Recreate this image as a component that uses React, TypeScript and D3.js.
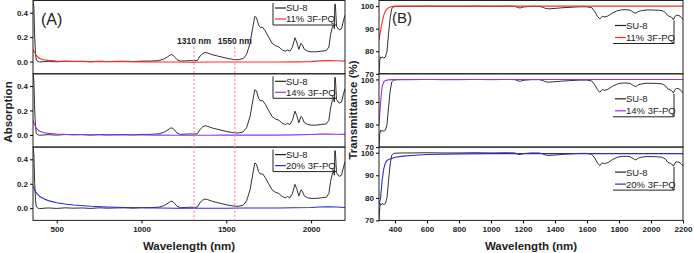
import React, { useEffect, useRef } from 'react';
import * as d3 from 'd3';

// ---- Absorption (A) ----
const absWl = [360, 365, 370, 375, 380, 390, 400, 450, 500, 550, 600, 650, 700, 750, 800, 850, 900, 950, 1000, 1050, 1100, 1130, 1150, 1170, 1180, 1195, 1210, 1230, 1260, 1290, 1310, 1330, 1345, 1360, 1375, 1390, 1420, 1450, 1480, 1510, 1540, 1570, 1600, 1620, 1640, 1655, 1668, 1678, 1690, 1700, 1715, 1730, 1750, 1770, 1790, 1810, 1830, 1850, 1860, 1875, 1890, 1905, 1915, 1928, 1940, 1948, 1960, 1980, 2000, 2030, 2060, 2090, 2105, 2115, 2125, 2132, 2137, 2140, 2143, 2150, 2165, 2180, 2190, 2200];
const absSU8 = [0.5, 0.45, 0.2, 0.06, 0.01, 0.0, -0.003, 0.002, -0.002, 0.003, 0.0, 0.002, -0.002, 0.003, 0.0, 0.002, 0.003, 0.0, 0.004, 0.004, 0.008, 0.02, 0.035, 0.055, 0.057, 0.04, 0.015, 0.004, 0.006, 0.008, 0.006, 0.01, 0.045, 0.065, 0.075, 0.07, 0.055, 0.045, 0.035, 0.025, 0.018, 0.015, 0.025, 0.06, 0.15, 0.27, 0.37, 0.36, 0.3, 0.28, 0.28, 0.25, 0.2, 0.15, 0.13, 0.12, 0.095, 0.085, 0.095, 0.085, 0.12, 0.195, 0.16, 0.1, 0.15, 0.14, 0.1, 0.085, 0.08, 0.08, 0.085, 0.09, 0.12, 0.22, 0.28, 0.3, 0.27, 0.47, 0.47, 0.29, 0.26, 0.27, 0.33, 0.38];

const absWlDoped = [360, 370, 380, 390, 400, 420, 450, 500, 550, 600, 700, 800, 900, 1000, 1100, 1200, 1300, 1400, 1500, 1600, 1700, 1800, 1900, 2000, 2050, 2100, 2150, 2200];
const abs11 = [0.1, 0.075, 0.05, 0.035, 0.025, 0.015, 0.01, 0.005, 0.003, 0.002, 0.0, 0.0, 0.0, -0.002, -0.003, -0.004, -0.005, -0.004, -0.003, -0.004, -0.004, -0.003, -0.002, 0.0, 0.006, 0.008, 0.007, 0.004];
const abs14 = [0.12, 0.08, 0.055, 0.04, 0.03, 0.02, 0.012, 0.007, 0.004, 0.003, 0.001, 0, 0, -0.001, -0.002, -0.003, -0.003, -0.003, -0.002, -0.002, -0.002, -0.002, 0.0, 0.003, 0.006, 0.006, 0.005, 0.004];
const abs20 = [0.18, 0.15, 0.125, 0.11, 0.095, 0.08, 0.062, 0.045, 0.034, 0.026, 0.016, 0.01, 0.006, 0.003, 0.001, 0.0, 0.0, 0.0, 0.0, 0.001, 0.001, 0.002, 0.004, 0.006, 0.01, 0.012, 0.01, 0.006];

// ---- Transmittance (B) ----
const tWl = [300, 305, 310, 315, 320, 330, 340, 350, 360, 370, 380, 390, 400, 450, 500, 600, 700, 800, 900, 1000, 1100, 1150, 1170, 1185, 1200, 1250, 1300, 1320, 1340, 1360, 1400, 1450, 1500, 1550, 1600, 1630, 1650, 1665, 1680, 1695, 1710, 1730, 1760, 1790, 1820, 1850, 1870, 1890, 1905, 1920, 1940, 1970, 2000, 2040, 2070, 2090, 2105, 2120, 2130, 2140, 2150, 2160, 2175, 2190, 2200];
const tSU8 = [70, 76, 77.5, 77, 77.5, 77, 77.5, 80, 88, 95, 99, 99.6, 99.8, 99.9, 99.9, 100, 99.9, 99.9, 100, 99.9, 100, 99.9, 99.3, 99.2, 99.6, 99.9, 99.9, 99.6, 99, 98.8, 99, 99.3, 99.5, 99.7, 99.7, 99.3, 97.5, 95.5, 94.3, 95.5, 95.2, 95.6, 97, 98, 98.4, 98.4, 98.2, 97.3, 96.8, 97.6, 98, 98.3, 98.3, 98.2, 98, 97.2, 95.8, 95.3, 95, 94, 95.5, 96, 95.8, 95, 94];

const tWlDoped = [300, 310, 320, 330, 340, 350, 360, 380, 400, 450, 500, 600, 800, 1000, 1200, 1400, 1600, 1800, 2000, 2200];
const t11 = [85, 89, 93, 96, 97.8, 98.8, 99.3, 99.8, 100, 100, 100, 100, 100, 100, 100, 100, 100, 100, 100, 100];
const t14 = [80, 90, 97, 99, 99.5, 99.7, 99.8, 99.9, 100, 100, 100, 100, 100, 100, 100, 100, 100, 100, 100, 100];
const t20 = [77, 80, 88, 93, 95.5, 96.5, 97, 97.4, 98, 98.5, 98.8, 99.2, 99.5, 99.6, 99.6, 99.6, 99.6, 99.6, 99.6, 99.6];

const dopedLabels = ['11% 3F-PQ', '14% 3F-PQ', '20% 3F-PQ'];
const dopedColors = ['#ff2a2a', '#9933ee', '#2a2ad8'];
const absTicks = [0.0, 0.2, 0.4];
const tTicks = [70, 80, 90, 100];
const absXTicks = [500, 1000, 1500, 2000];
const tXTicks = [400, 600, 800, 1000, 1200, 1400, 1600, 1800, 2000, 2200];
const markers = [1310, 1550];

const FONT = "Arial, 'Liberation Sans', sans-serif";

export default function App() {
  const svgRef = useRef<SVGSVGElement>(null);

  useEffect(() => {
    document.body.style.margin = '0';
    if (!svgRef.current) return;
    const svg = d3.select(svgRef.current);
    svg.selectAll('*').remove();

    const width = 694;
    const height = 253;
    svg.attr('width', width).attr('height', height).style('background', '#fff');

    const panelH = 73.3;
    const top0 = 0.5;
    const panelTops = [0, 1, 2].map(i => top0 + i * panelH);
    const bottom = top0 + 3 * panelH;

    const xA = d3.scaleLinear().domain([360, 2200]).range([33, 345]);
    const xB = d3.scaleLinear().domain([300, 2200]).range([379, 683]);

    const absDoped = [abs11, abs14, abs20];
    const tDoped = [t11, t14, t20];

    const drawPanel = (
      x: d3.ScaleLinear<number, number>,
      y: d3.ScaleLinear<number, number>,
      ticks: number[],
      fmt: (v: number) => string,
      series: { wl: number[]; v: number[]; color: string; w: number }[],
      id: string,
    ) => {
      const [x0, x1] = x.range();
      const [yb, yt] = y.range();
      svg.append('clipPath').attr('id', id)
        .append('rect').attr('x', x0).attr('y', yt).attr('width', x1 - x0).attr('height', yb - yt);

      const g = svg.append('g').attr('clip-path', `url(#${id})`);
      series.forEach(s => {
        const line = d3.line<number>()
          .x((_, i) => x(s.wl[i]))
          .y(d => y(d));
        g.append('path')
          .attr('d', line(s.v) as string)
          .attr('fill', 'none')
          .attr('stroke', s.color)
          .attr('stroke-width', s.w);
      });

      svg.append('rect')
        .attr('x', x0).attr('y', yt).attr('width', x1 - x0).attr('height', yb - yt)
        .attr('fill', 'none').attr('stroke', '#222').attr('stroke-width', 1);

      const axis = svg.append('g').attr('transform', `translate(${x0},0)`)
        .call(d3.axisLeft(y).tickValues(ticks).tickSize(3).tickPadding(2).tickFormat(d => fmt(d as number)));
      axis.select('.domain').remove();
      axis.selectAll('text').style('font-family', FONT).style('font-size', '8px')
        .style('font-weight', 'bold').attr('fill', '#222');
    };

    // legend: two rows, a bottom rule and one side rule
    const legend = (lx: number, ly: number, rowGap: number, label: string, color: string, side: 'left' | 'right', boxW: number) => {
      const g = svg.append('g').style('font-family', FONT).style('font-size', '9.5px');
      const rows = [{ t: 'SU-8', c: '#222' }, { t: label, c: color }];
      rows.forEach((r, i) => {
        const yy = ly + i * rowGap;
        g.append('line').attr('x1', lx + 2).attr('x2', lx + 13).attr('y1', yy).attr('y2', yy)
          .attr('stroke', r.c).attr('stroke-width', 1.2);
        g.append('text').attr('x', lx + 13).attr('y', yy + 3.4).attr('fill', '#222').text(r.t);
      });
      const by = ly + rowGap + 6;
      g.append('line').attr('x1', lx).attr('x2', lx + boxW).attr('y1', by).attr('y2', by)
        .attr('stroke', '#222').attr('stroke-width', 1);
      const sx = side === 'left' ? lx : lx + boxW;
      g.append('line').attr('x1', sx).attr('x2', sx).attr('y1', ly - 5).attr('y2', by)
        .attr('stroke', '#222').attr('stroke-width', 1);
    };

    // Panel A
    panelTops.forEach((t, i) => {
      const y = d3.scaleLinear().domain([-0.1, 0.5]).range([t + panelH, t]);
      drawPanel(xA, y, absTicks, d3.format('.1f'), [
        { wl: absWl, v: absSU8, color: '#1a1a1a', w: 0.9 },
        { wl: absWlDoped, v: absDoped[i], color: dopedColors[i], w: 1.1 },
      ], `clipA${i}`);
      legend(273, t + 7.5, 11, dopedLabels[i], dopedColors[i], 'left', 63);
    });

    // Panel B
    panelTops.forEach((t, i) => {
      const y = d3.scaleLinear().domain([70, 102.5]).range([t + panelH, t]);
      drawPanel(xB, y, tTicks, d3.format('d'), [
        { wl: tWl, v: tSU8, color: '#1a1a1a', w: 0.9 },
        { wl: tWlDoped, v: tDoped[i], color: dopedColors[i], w: 1.1 },
      ], `clipB${i}`);
      legend(613, t + 25, 12, dopedLabels[i], dopedColors[i], 'right', 61);
    });

    // x axes
    const axA = svg.append('g').attr('transform', `translate(0,${bottom})`)
      .call(d3.axisBottom(xA).tickValues(absXTicks).tickSize(3).tickPadding(3).tickFormat(d3.format('d')));
    const axB = svg.append('g').attr('transform', `translate(0,${bottom})`)
      .call(d3.axisBottom(xB).tickValues(tXTicks).tickSize(3).tickPadding(3).tickFormat(d3.format('d')));
    [axA, axB].forEach(a => {
      a.select('.domain').remove();
      a.selectAll('text').style('font-family', FONT).style('font-size', '8px')
        .style('font-weight', 'bold').attr('fill', '#222');
    });

    // 1310 / 1550 markers
    const yA0 = d3.scaleLinear().domain([-0.1, 0.5]).range([panelTops[0] + panelH, panelTops[0]]);
    markers.forEach(m => {
      svg.append('line')
        .attr('x1', xA(m)).attr('x2', xA(m))
        .attr('y1', yA0(0.12)).attr('y2', bottom)
        .attr('stroke', '#ff6f9a').attr('stroke-width', 1).attr('stroke-dasharray', '2,2');
      svg.append('text')
        .attr('x', xA(m)).attr('y', yA0(0.145))
        .attr('text-anchor', 'middle')
        .style('font-family', FONT).style('font-size', '8.5px').style('font-weight', 'bold')
        .attr('fill', '#222')
        .text(`${m} nm`);
    });

    // titles
    const title = (x: number, y: number, text: string, rot = false) => svg.append('text')
      .attr('transform', `translate(${x},${y})${rot ? ' rotate(-90)' : ''}`)
      .attr('text-anchor', 'middle')
      .style('font-family', FONT).style('font-size', '11.5px').style('font-weight', 'bold')
      .attr('fill', '#222')
      .text(text);
    title(189, 250, 'Wavelength (nm)');
    title(531, 250, 'Wavelength (nm)');
    title(12, 112, 'Absorption', true);
    title(357, 110, 'Transmittance (%)', true);

    svg.append('text').attr('x', 41).attr('y', 25)
      .style('font-family', FONT).style('font-size', '16px').attr('fill', '#222').text('(A)');
    svg.append('text').attr('x', 392).attr('y', 23)
      .style('font-family', FONT).style('font-size', '15px').attr('fill', '#222').text('(B)');
  }, []);

  return <svg ref={svgRef}></svg>;
}
